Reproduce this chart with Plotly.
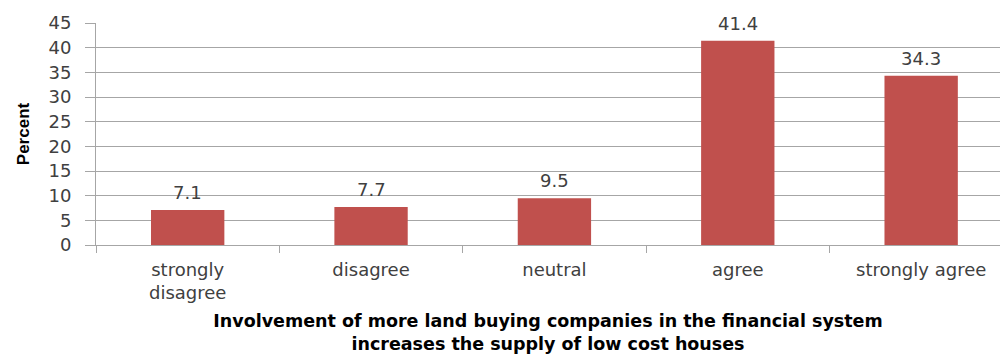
import plotly.graph_objects as go

categories = ["strongly<br>disagree", "disagree", "neutral", "agree", "strongly agree"]
percent = [7.1, 7.7, 9.5, 41.4, 34.3]
y_ticks = [0, 5, 10, 15, 20, 25, 30, 35, 40, 45]

bar_color = "#C0504D"
grid_color = "#A6A6A6"
text_color = "#404040"
font_family = "DejaVu Sans"

fig = go.Figure()
fig.add_trace(go.Bar(
    x=categories,
    y=percent,
    width=0.4,
    marker=dict(color=bar_color, line=dict(width=0)),
    hoverinfo="skip",
))

# value labels above each bar
for cat, val in zip(categories, percent):
    fig.add_annotation(
        x=cat, y=val, text=f"{val}", showarrow=False,
        yanchor="bottom", yshift=5,
        font=dict(family=font_family, size=18, color=text_color),
    )

fig.update_layout(
    width=1000, height=356,
    margin=dict(l=96, r=0, t=23, b=111),
    paper_bgcolor="white", plot_bgcolor="white",
    showlegend=False,
    bargap=0.6,
    xaxis=dict(
        range=[-0.5, 4.43],
        showline=True, linecolor=grid_color, linewidth=1,
        ticks="outside", tickson="boundaries", ticklen=7, tickcolor=grid_color,
        ticklabelstandoff=8,
        tickfont=dict(family=font_family, size=18, color=text_color),
        title=dict(
            text="Involvement of more land buying companies in the financial system<br>increases the supply of low cost houses",
            font=dict(family=font_family, size=17.5, color="black", weight="bold"),
            standoff=12,
        ),
        fixedrange=True,
    ),
    yaxis=dict(
        range=[0, 45],
        tickvals=y_ticks,
        showgrid=True, gridcolor=grid_color, gridwidth=1,
        showline=True, linecolor=grid_color, linewidth=1,
        ticks="outside", ticklen=10, tickcolor=grid_color,
        ticklabelstandoff=10,
        tickfont=dict(family=font_family, size=18, color=text_color),
        zeroline=False,
        title=dict(
            text="Percent",
            font=dict(family="Liberation Sans Narrow, Liberation Sans", size=17, color="black", weight="bold"),
            standoff=14,
        ),
        fixedrange=True,
    ),
)

fig.write_html("out.html")
